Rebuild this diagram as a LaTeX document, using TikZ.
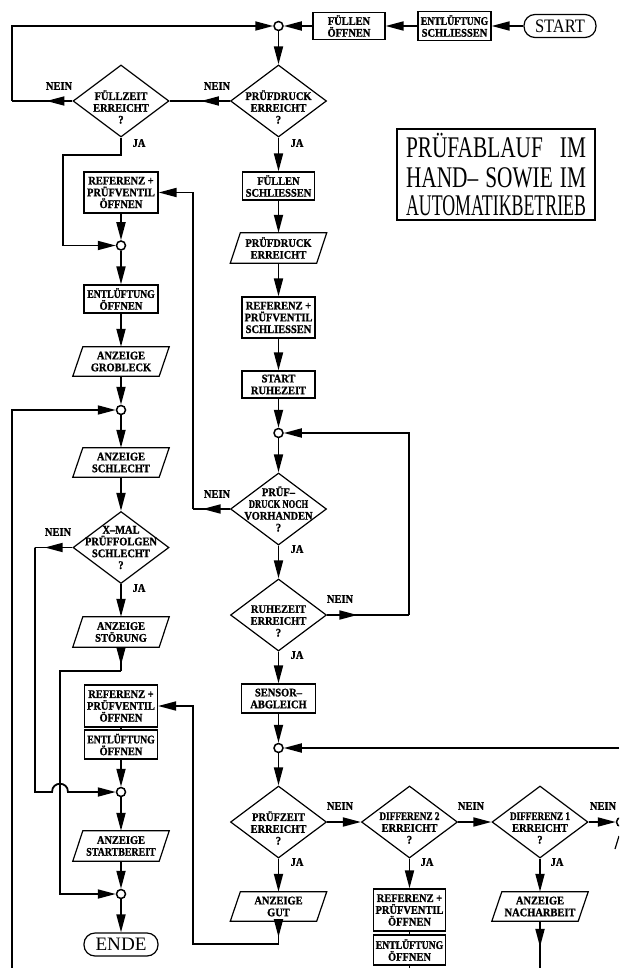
\documentclass[tikz,border=0pt]{standalone}
\usepackage{fontspec}
\usepackage{graphicx}
\setmainfont{Liberation Serif}
\newfontfamily\boxfont{Liberation Serif}[FakeStretch=0.9,BoldFeatures={FakeBold=1.2}]
\newfontfamily\titlefont{Liberation Serif}
\usetikzlibrary{arrows.meta,shapes.geometric,decorations.markings,calc}

\newcommand{\mypara}[5]{%
  \node[paranode,minimum height=#4] (#1) at (#2,#3) {#5};
  \draw[shapeline] ([xshift=-5pt]#1.south west) -- ([xshift=-5pt]#1.south east)
     -- ([xshift=5pt]#1.north east) -- ([xshift=5pt]#1.north west) -- cycle;}
\newcommand{\mydia}[5]{%
  \node[dia] (#1) at (#2,#3) {};
  \node[txt] (#1t) at ([yshift=#4]#1.center) {#5};}
\newcommand{\EL}{\scalebox{0.93}[1]{ENTLÜFTUNG}}

\begin{document}
\begin{tikzpicture}[x=1pt,y=-1pt,
  conn/.style={line width=1.8pt},
  arr/.style={conn,-{Triangle[length=18pt,width=9pt]}},
  marr/.style={conn,postaction={decorate},decoration={markings,mark=at position #1 with {\arrow{Triangle[length=18pt,width=9pt]}}}},
  txt/.style={font=\boxfont\bfseries\fontsize{11.6}{11.8}\selectfont,align=center,inner sep=0pt},
  shapeline/.style={line width=1.2pt},
  box/.style={txt,draw,line width=1.2pt},
  paranode/.style={txt,minimum width=86pt},
  dia/.style={diamond,draw,line width=1.2pt,minimum width=96pt,minimum height=72pt,inner sep=0pt},
  jn/.style={circle,draw,fill=white,line width=1.5pt,minimum size=9pt,inner sep=0pt},
  term/.style={draw,line width=1.2pt,rounded corners=11pt,inner sep=0pt,font=\fontsize{19}{19}\selectfont},
  titletxt/.style={font=\titlefont\fontsize{30}{30}\selectfont,inner sep=0pt}
]
\useasboundingbox (0,0) rectangle (619,968);
\clip (0,0) rectangle (619,968);

% ---- top row
\node[term,minimum width=72pt,minimum height=23pt] (start) at (560,26) {\resizebox{50pt}{\height}{START}};
\node[box,minimum width=73pt,minimum height=29pt] (ents) at (454.5,26) {\EL\\SCHLIESSEN};
\node[box,minimum width=72pt,minimum height=27pt] (fuo) at (349,26) {FÜLLEN\\ÖFFNEN};
\node[jn] (j1) at (278.5,26) {};

% ---- title
\node[draw,line width=2.2pt,minimum width=198pt,minimum height=91pt,inner sep=0pt] (tbox) at (496,174.5) {};
\node[titletxt,anchor=base] (t1) at (496,158) {\resizebox{180pt}{\height}{\makebox[253.5pt][s]{PRÜFABLAUF\hfill IM}}};
\node[titletxt,anchor=base] (t2) at (496,187.5) {\resizebox{180pt}{\height}{\makebox[253.5pt][s]{HAND–\hfill SOWIE\hfill IM}}};
\node[titletxt,anchor=base] (t3) at (496,215.5) {\resizebox{180pt}{\height}{AUTOMATIKBETRIEB}};

% ---- column 2
\mydia{d1}{278.5}{101}{-6pt}{PRÜFDRUCK\\ERREICHT\\?}
\node[box,minimum width=72pt,minimum height=28pt] (fs) at (278.5,186) {FÜLLEN\\SCHLIESSEN};
\mypara{p1}{278.5}{248}{30pt}{PRÜFDRUCK\\ERREICHT}
\node[box,minimum width=73pt,minimum height=41pt] (rs) at (278.5,317.5) {REFERENZ +\\PRÜFVENTIL\\SCHLIESSEN};
\node[box,minimum width=73pt,minimum height=27pt] (sr) at (278.5,384.5) {START\\RUHEZEIT};
\node[jn] (j2) at (278.5,433) {};
\mydia{d2}{278.5}{509}{0pt}{PRÜF–\\\scalebox{0.82}[1]{DRUCK NOCH}\\VORHANDEN\\?}
\mydia{d3}{278.5}{615}{-6pt}{RUHEZEIT\\ERREICHT\\?}
\node[box,minimum width=74pt,minimum height=29pt] (sa) at (278.5,698.5) {SENSOR–\\ABGLEICH};
\node[jn] (j3) at (278.5,748) {};
\mydia{d4}{278.5}{822}{-6pt}{PRÜFZEIT\\ERREICHT\\?}
\mydia{d5}{409.5}{822}{-6pt}{\scalebox{0.88}[1]{DIFFERENZ 2}\\ERREICHT\\?}
\mydia{d6}{540}{822}{-6pt}{\scalebox{0.88}[1]{DIFFERENZ 1}\\ERREICHT\\?}
\node[jn] (j4) at (621,822) {};
\draw[shapeline] (619,836) -- (615,849);
\mypara{ag}{278.5}{906.5}{29pt}{ANZEIGE\\GUT}
\node[box,minimum width=72pt,minimum height=42pt] (r3) at (409.5,910) {REFERENZ +\\PRÜFVENTIL\\ÖFFNEN};
\node[box,minimum width=72pt,minimum height=30pt] (e3) at (409.5,950) {\EL\\ÖFFNEN};
\mypara{an}{540}{906.5}{29pt}{ANZEIGE\\NACHARBEIT}

% ---- column 1
\mydia{d7}{121}{101}{-6pt}{FÜLLZEIT\\ERREICHT\\?}
\node[box,minimum width=74pt,minimum height=41pt] (r1) at (121,192.5) {REFERENZ +\\PRÜFVENTIL\\ÖFFNEN};
\node[jn] (j5) at (121,245.5) {};
\node[box,minimum width=74pt,minimum height=28pt] (e1) at (121,299) {\EL\\ÖFFNEN};
\mypara{a1}{121}{361.5}{29pt}{ANZEIGE\\GROBLECK}
\node[jn] (j6) at (121,410) {};
\mypara{a2}{121}{462.5}{29pt}{ANZEIGE\\SCHLECHT}
\mydia{d8}{121}{547.5}{0pt}{X–MAL\\PRÜFFOLGEN\\SCHLECHT\\?}
\mypara{a3}{121}{632}{30pt}{ANZEIGE\\STÖRUNG}
\node[box,minimum width=73pt,minimum height=42pt] (r2) at (121,706) {REFERENZ +\\PRÜFVENTIL\\ÖFFNEN};
\node[box,minimum width=73pt,minimum height=29pt] (e2) at (121,744.5) {\EL\\ÖFFNEN};
\node[jn] (j7) at (121,792) {};
\mypara{a4}{121}{846}{30pt}{ANZEIGE\\\scalebox{0.95}[1]{STARTBEREIT}};
\node[jn] (j8) at (121,894) {};
\node[term,minimum width=74pt,minimum height=23pt] (ende) at (121,944.5) {\resizebox{51pt}{\height}{ENDE}};

% ---- labels
\node[txt] (n1) at (217,86) {NEIN};
\node[txt] (n2) at (59,86) {NEIN};
\node[txt] (n3) at (217,494) {NEIN};
\node[txt] (n4) at (58,532) {NEIN};
\node[txt] (n5) at (340,599) {NEIN};
\node[txt] (n6) at (340,806) {NEIN};
\node[txt] (n7) at (471,806) {NEIN};
\node[txt] (n8) at (603,806) {NEIN};
\node[txt] (y1) at (297,143) {JA};
\node[txt] (y2) at (139,143) {JA};
\node[txt] (y3) at (297,549) {JA};
\node[txt] (y4) at (139,588) {JA};
\node[txt] (y5) at (297,655) {JA};
\node[txt] (y6) at (297,862) {JA};
\node[txt] (y7) at (427,862) {JA};
\node[txt] (y8) at (557,862) {JA};

% ---- free ends
\coordinate (cA) at (12,101);
\coordinate (cD) at (193,509);
\coordinate (cE) at (409,615);
\coordinate (cF) at (278.5,944);
\coordinate (cH) at (35,547.5);
\coordinate (cI) at (121,671);
\coordinate (cJ) at (540,968);
\coordinate (cK) at (409.5,968);
\coordinate (cL) at (619,748);
\coordinate (cM) at (12,968);

% ---- connectors
\draw[arr] (start) -- (ents);
\draw[arr] (ents) -- (fuo);
\draw[arr] (fuo) -- (j1);
\draw[arr] (j1) -- (d1.north);
\draw[marr=0.48] (d1.west) -- (d7.east);
\draw[marr=0.43] (d7.west) -- (cA);
\draw[arr] (cA) |- (j1.west);
\draw[arr] (d1.south) -- (fs.north);
\draw[arr] (d7.south) -- (121,155) -- (63,155) |- (j5.west);
\draw[arr] (fs.south) -- (p1.north);
\draw[arr] (p1.south) -- (rs.north);
\draw[arr] (rs.south) -- (sr.north);
\draw[arr] (sr.south) -- (j2.north);
\draw[arr] (j2.south) -- (d2.north);
\draw[marr=0.74] (d2.west) -- (cD);
\draw[arr] (cD) |- (r1.east);
\draw[arr] (r1.south) -- (j5.north);
\draw[arr] (j5.south) -- (e1.north);
\draw[arr] (e1.south) -- (a1.north);
\draw[arr] (a1.south) -- (j6.north);
\draw[arr] (cM) |- (j6.west);
\draw[arr] (j6.south) -- (a2.north);
\draw[arr] (a2.south) -- (d8.north);
\draw[arr] (d2.south) -- (d3.north);
\draw[marr=0.37] (d3.east) -- (cE);
\draw[arr] (cE) |- (j2.east);
\draw[arr] (d3.south) -- (sa.north);
\draw[arr] (sa.south) -- (j3.north);
\draw[arr] (cL) -- (j3.east);
\draw[arr] (j3.south) -- (d4.north);
\draw[arr] (d4.east) -- (d5.west);
\draw[arr] (d5.east) -- (d6.west);
\draw[arr] (d6.east) -- (j4.west);
\draw[arr] (d4.south) -- (ag.north);
\draw[arr] (d5.south) -- (r3.north);
\draw[arr] (d6.south) -- (an.north);
\draw[conn] (r3.south) -- (e3.north);
\draw[conn] (e3.south) -- (cK);
\draw[marr=0.55] (an.south) -- (cJ);
\draw[marr=0.7] (ag.south) -- (cF);
\draw[arr] (cF) -- (193,944) |- (r2.east);
\draw[marr=0.74] (d8.west) -- (cH);
\draw[arr] (cH) -- (35,792) -- (52,792) .. controls (52,781) and (68,781) .. (68,792) -- (j7.west);
\draw[arr] (d8.south) -- (a3.north);
\draw[marr=0.75] (a3.south) -- (cI);
\draw[arr] (cI) -- (60,671) |- (j8.west);
\draw[conn] (r2.south) -- (e2.north);
\draw[arr] (e2.south) -- (j7.north);
\draw[arr] (j7.south) -- (a4.north);
\draw[arr] (a4.south) -- (j8.north);
\draw[arr] (j8.south) -- (ende.north);
\end{tikzpicture}
\end{document}
